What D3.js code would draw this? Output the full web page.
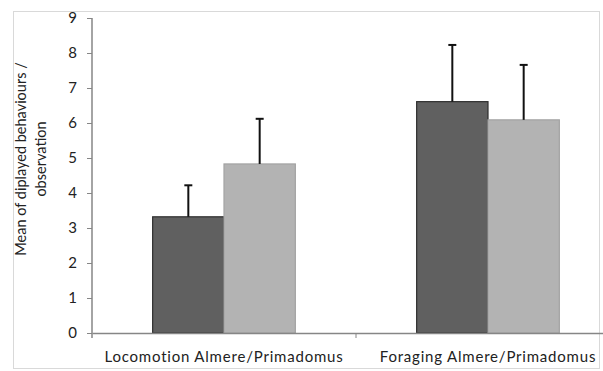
<!DOCTYPE html>
<html>
<head>
<meta charset="utf-8">
<script src="https://cdn.jsdelivr.net/npm/d3@7"></script>
<style>
  body { margin: 0; background: #fff; }
  svg { display: block; font-family: Lato, 'Open Sans', sans-serif; }
</style>
</head>
<body>
<svg id="chart"></svg>
<script>
// data
const categories = ['Locomotion Almere/Primadomus', 'Foraging Almere/Primadomus'];
const groups = ['Almere', 'Primadomus'];
const meanAlmere = [3.32, 6.61];
const meanPrimadomus = [4.83, 6.09];
const errAlmere = [0.90, 1.62];
const errPrimadomus = [1.29, 1.57];
const yTicks = [0, 1, 2, 3, 4, 5, 6, 7, 8, 9];

const width = 603, height = 371;
const margin = { top: 18, left: 92, bottom: 38 };
const plotRight = 620; // the chart is cropped on the right side

const rows = [];
categories.forEach((c, i) => {
  rows.push({ cat: c, group: groups[0], value: meanAlmere[i], err: errAlmere[i] });
  rows.push({ cat: c, group: groups[1], value: meanPrimadomus[i], err: errPrimadomus[i] });
});

const svg = d3.select('#chart')
  .attr('width', width)
  .attr('height', height);

// outer frame
svg.append('rect')
  .attr('x', 13.5).attr('y', 11.5)
  .attr('width', 586).attr('height', 357)
  .attr('fill', 'none')
  .attr('stroke', '#d9d9d9');

const xScale = d3.scaleBand()
  .domain(categories)
  .range([margin.left, plotRight]);

const xInner = d3.scaleBand()
  .domain(groups)
  .range([0, xScale.bandwidth()])
  .paddingOuter(0.85)
  .paddingInner(0);

const yScale = d3.scaleLinear()
  .domain([0, 9])
  .range([height - margin.bottom, margin.top]);

const color = d3.scaleOrdinal()
  .domain(groups)
  .range(['#606060', '#b3b3b3']);
const strokeColor = d3.scaleOrdinal()
  .domain(groups)
  .range(['#2e2e2e', '#a3a3a3']);

// bars
const bars = svg.append('g');
bars.selectAll('rect')
  .data(rows)
  .join('rect')
  .attr('x', d => xScale(d.cat) + xInner(d.group))
  .attr('y', d => yScale(d.value))
  .attr('width', xInner.bandwidth())
  .attr('height', d => yScale(0) - yScale(d.value))
  .attr('fill', d => color(d.group))
  .attr('stroke', d => strokeColor(d.group))
  .attr('stroke-width', 1.2);

// error bars (upper only)
const errG = svg.append('g')
  .attr('stroke', '#111')
  .attr('stroke-width', 2);
const cx = d => xScale(d.cat) + xInner(d.group) + xInner.bandwidth() / 2;
errG.selectAll('line.stem')
  .data(rows)
  .join('line')
  .attr('class', 'stem')
  .attr('x1', cx).attr('x2', cx)
  .attr('y1', d => yScale(d.value))
  .attr('y2', d => yScale(d.value + d.err));
errG.selectAll('line.cap')
  .data(rows)
  .join('line')
  .attr('class', 'cap')
  .attr('x1', d => cx(d) - 4).attr('x2', d => cx(d) + 4)
  .attr('y1', d => yScale(d.value + d.err))
  .attr('y2', d => yScale(d.value + d.err));

// y axis
const yAxis = d3.axisLeft(yScale)
  .tickValues(yTicks)
  .tickSize(5)
  .tickPadding(10)
  .tickSizeOuter(0);
const yAxisG = svg.append('g')
  .attr('transform', `translate(${margin.left},0)`)
  .call(yAxis);
yAxisG.select('.domain')
  .attr('stroke', '#868686')
  .attr('stroke-width', 1.5)
  .attr('d', `M0,${margin.top}V${yScale(0) + 5}`);
yAxisG.selectAll('.tick line').attr('stroke', '#868686');
yAxisG.selectAll('.tick text')
  .attr('font-size', 15)
  .attr('font-family', 'Lato, sans-serif')
  .attr('fill', '#222');

// x axis
const xAxis = d3.axisBottom(xScale)
  .tickSize(0)
  .tickPadding(0)
  .tickSizeOuter(0);
const xAxisG = svg.append('g')
  .attr('transform', `translate(0,${yScale(0)})`)
  .call(xAxis);
xAxisG.select('.domain')
  .attr('stroke', '#868686')
  .attr('stroke-width', 1.5);
xAxisG.selectAll('.tick text')
  .attr('y', 29)
  .attr('dy', 0)
  .attr('font-size', 15)
  .attr('letter-spacing', 0.8)
  .attr('font-family', 'Lato, sans-serif')
  .attr('fill', '#222');

// divider tick between the categories
xAxisG.append('line')
  .attr('x1', xScale(categories[1]))
  .attr('x2', xScale(categories[1]))
  .attr('y1', 0).attr('y2', 5)
  .attr('stroke', '#868686');

// y axis title, two lines
const yTitle = svg.append('text')
  .attr('transform', `translate(26,159) rotate(-90)`)
  .attr('text-anchor', 'middle')
  .attr('font-size', 14.5)
  .attr('fill', '#222');
yTitle.append('tspan')
  .attr('x', 0).attr('dy', 0)
  .text('Mean of diplayed behaviours /');
yTitle.append('tspan')
  .attr('x', 0).attr('dy', 20)
  .text('observation');
</script>
</body>
</html>
